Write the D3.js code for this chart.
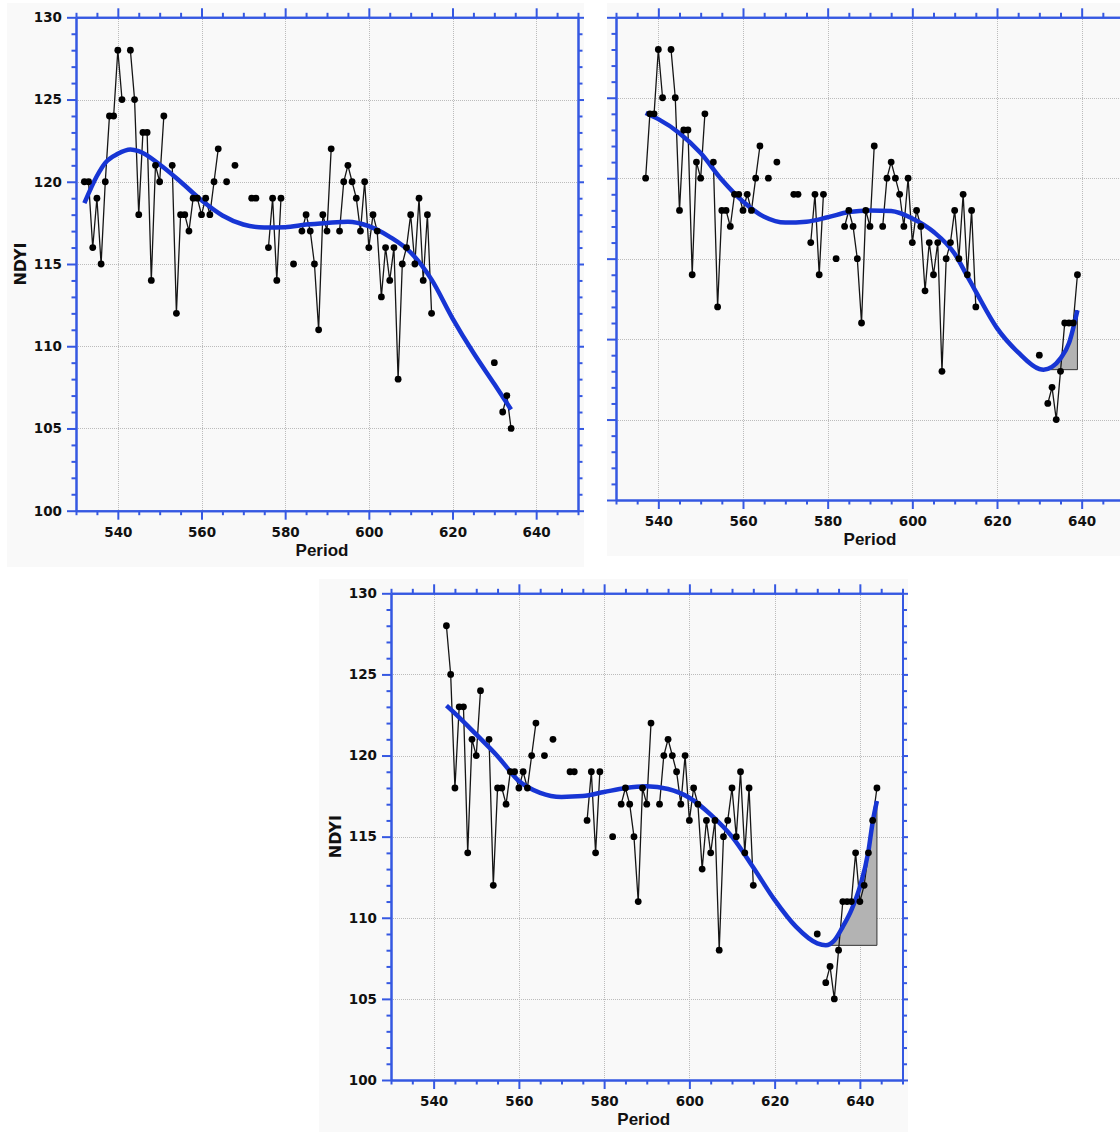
<!DOCTYPE html>
<html>
<head>
<meta charset="utf-8">
<script src="https://cdn.jsdelivr.net/npm/d3@7"></script>
<style>
  html, body { margin: 0; padding: 0; background: #ffffff; }
  svg { display: block; }
</style>
</head>
<body>
<svg id="chart" width="1120" height="1132"></svg>
<script>
// Observed NDYI by period (missing periods are simply absent)
const periods = [
  532,533,534,535,536,537,538,539,540,541,
  543,544,545,546,547,548,549,550,551,
  553,554,555,556,557,558,559,560,561,562,563,564,
  566,568,572,573,
  576,577,578,579,582,
  584,585,586,587,588,589,590,591,
  593,594,595,596,597,598,599,600,601,602,603,604,605,606,607,608,609,610,611,612,613,614,615,
  630,
  632,633,634,635,636,637,638,639,640,641,642,643,644
];
const ndyi = [
  120,120,116,119,115,120,124,124,128,125,
  128,125,118,123,123,114,121,120,124,
  121,112,118,118,117,119,119,118,119,118,120,122,
  120,121,119,119,
  116,119,114,119,115,
  117,118,117,115,111,118,117,122,
  117,120,121,120,119,117,120,116,118,117,113,116,114,116,108,115,116,118,115,119,114,118,112,
  109,
  106,107,105,108,111,111,111,114,111,112,114,116,118
];

// Window of periods covered by each panel
const windowStart = [532, 537, 543];
const windowEnd   = [634, 639, 644];

// Fitted trend, sampled along each window
const trend1Period = [532,535,537,540,543,545,550,555,560,565,570,575,580,585,590,595,600,605,610,615,620,625,630,634];
const trend1Value  = [118.7,120.35,121.15,121.7,121.96,121.86,121.05,120.0,118.87,117.95,117.4,117.22,117.24,117.4,117.5,117.57,117.3,116.65,115.7,114.05,111.7,109.6,107.7,106.15];

const trend2Period = [537,540,545,550,555,560,565,570,575,580,585,590,595,600,605,610,613,615,620,625,630,631,633,635,637,639];
const trend2Value  = [124.05,123.67,122.8,121.56,119.9,118.55,117.6,117.24,117.3,117.57,117.9,118.0,117.96,117.5,116.67,115.3,113.9,112.95,110.68,109.17,108.14,108.1,108.27,108.8,109.75,111.8];

const trend3Period = [543,545,550,555,560,565,570,575,580,585,590,595,600,605,610,615,620,625,630,632,634,636,638,640,642,643,644];
const trend3Value  = [123.08,122.6,121.3,119.96,118.43,117.7,117.45,117.5,117.75,118.0,118.1,117.94,117.4,116.36,115.0,113.1,111.1,109.45,108.42,108.3,108.6,109.45,110.47,111.9,114.1,115.9,117.2];

// Shading below the trend after its minimum
const shadeAfterMin = [false, true, true];

// Axis ticks
const xMajorTicks = [540, 560, 580, 600, 620, 640];
const yMajorTicks = [100, 105, 110, 115, 120, 125, 130];
const xDomain = [530, 650];
const yDomain = [100, 130];

const trendPeriods = [trend1Period, trend2Period, trend3Period];
const trendValues  = [trend1Value, trend2Value, trend3Value];

// Panel geometry
const panels = [
  { frame: { x: 7,   y: 3,   w: 577, h: 564 }, plot: { l: 76,  t: 17.3,  r: 578,   b: 510.7 }, titleShift: -5 },
  { frame: { x: 607, y: 3,   w: 513, h: 553 }, plot: { l: 616, t: 17.3,  r: 1124,  b: 500   }, titleShift: 0 },
  { frame: { x: 319, y: 579, w: 589, h: 553 }, plot: { l: 391, t: 593.3, r: 902.5, b: 1080  }, titleShift: -3 }
];

const AXIS = "#3558e2";
const TREND = "#1735d4";
const TICK_FONT = "'DejaVu Sans', sans-serif";
const TITLE_FONT = "'Liberation Sans', Arial, sans-serif";

const svg = d3.select("#chart");
const defs = svg.append("defs");

const obs = periods.map((p, i) => ({ p, v: ndyi[i] }));

const xMinor = d3.range(xDomain[0], xDomain[1] + 1, 5).filter(v => !xMajorTicks.includes(v));
const yMinor = d3.range(yDomain[0], yDomain[1] + 1, 1).filter(v => !yMajorTicks.includes(v));

panels.forEach((pn, k) => {
  const clipId = "panel-clip-" + k;
  defs.append("clipPath").attr("id", clipId)
    .append("rect")
    .attr("x", pn.frame.x).attr("y", pn.frame.y)
    .attr("width", pn.frame.w).attr("height", pn.frame.h);

  const g = svg.append("g").attr("clip-path", `url(#${clipId})`);

  g.append("rect")
    .attr("x", pn.frame.x).attr("y", pn.frame.y)
    .attr("width", pn.frame.w).attr("height", pn.frame.h)
    .attr("fill", "#f9f9f9");

  const x = d3.scaleLinear().domain(xDomain).range([pn.plot.l, pn.plot.r]);
  const y = d3.scaleLinear().domain(yDomain).range([pn.plot.b, pn.plot.t]);

  // dotted grid at the major ticks
  const grid = g.append("g")
    .attr("stroke", "#bcbcbc").attr("stroke-width", 1)
    .attr("stroke-dasharray", "1 1").attr("shape-rendering", "crispEdges");
  grid.selectAll("line.vx").data(xMajorTicks).join("line")
    .attr("x1", d => Math.round(x(d)) + 0.5).attr("x2", d => Math.round(x(d)) + 0.5)
    .attr("y1", pn.plot.t).attr("y2", pn.plot.b);
  grid.selectAll("line.hy").data(yMajorTicks.filter(v => v > yDomain[0] && v < yDomain[1])).join("line")
    .attr("y1", d => Math.round(y(d)) + 0.5).attr("y2", d => Math.round(y(d)) + 0.5)
    .attr("x1", pn.plot.l).attr("x2", pn.plot.r);

  const tp = trendPeriods[k], tv = trendValues[k];
  const trend = tp.map((p, i) => ({ p, v: tv[i] }));
  const curve = d3.curveMonotoneX;

  // shaded region between the trend and its minimum
  if (shadeAfterMin[k]) {
    const minIdx = d3.minIndex(trend, d => d.v);
    const minV = trend[minIdx].v;
    const shadeClip = "shade-clip-" + k;
    defs.append("clipPath").attr("id", shadeClip)
      .append("rect")
      .attr("x", x(trend[minIdx].p)).attr("y", pn.plot.t)
      .attr("width", x(trend[trend.length - 1].p) - x(trend[minIdx].p) + 1)
      .attr("height", pn.plot.b - pn.plot.t);
    const area = d3.area().curve(curve)
      .x(d => x(d.p)).y0(y(minV)).y1(d => y(d.v));
    g.append("path")
      .attr("clip-path", `url(#${shadeClip})`)
      .attr("d", area(trend))
      .attr("fill", "#b3b3b3");
    // outline: bottom and right edges
    const last = trend[trend.length - 1];
    g.append("path")
      .attr("d", `M${x(trend[minIdx].p)},${y(minV)}H${x(last.p)}V${y(last.v)}`)
      .attr("fill", "none").attr("stroke", "#333").attr("stroke-width", 1);
  }

  // observations inside the window, broken at missing periods
  const inWin = obs.filter(d => d.p >= windowStart[k] && d.p <= windowEnd[k]);
  const segments = [];
  inWin.forEach((d, i) => {
    if (i === 0 || d.p - inWin[i - 1].p > 1) segments.push([]);
    segments[segments.length - 1].push(d);
  });
  const line = d3.line().x(d => x(d.p)).y(d => y(d.v));
  g.append("g").selectAll("path").data(segments.filter(s => s.length > 1)).join("path")
    .attr("d", line)
    .attr("fill", "none").attr("stroke", "#151515").attr("stroke-width", 1.3);

  // fitted trend
  g.append("path")
    .attr("d", d3.line().curve(curve).x(d => x(d.p)).y(d => y(d.v))(trend))
    .attr("fill", "none").attr("stroke", TREND).attr("stroke-width", 4.5)
    .attr("stroke-linecap", "butt");

  g.append("g").selectAll("circle").data(inWin).join("circle")
    .attr("cx", d => x(d.p)).attr("cy", d => y(d.v)).attr("r", 3.4)
    .attr("fill", "#000");

  // axes on all four sides, minor then major ticks
  const axes = [
    { gen: d3.axisBottom, tr: `translate(0,${pn.plot.b})`, s: x, minor: xMinor, major: xMajorTicks, labels: true },
    { gen: d3.axisTop,    tr: `translate(0,${pn.plot.t})`, s: x, minor: xMinor, major: xMajorTicks, labels: false },
    { gen: d3.axisLeft,   tr: `translate(${pn.plot.l},0)`, s: y, minor: yMinor, major: yMajorTicks, labels: true },
    { gen: d3.axisRight,  tr: `translate(${pn.plot.r},0)`, s: y, minor: yMinor, major: yMajorTicks, labels: false }
  ];
  axes.forEach(a => {
    const ga = g.append("g").attr("transform", a.tr);
    ga.append("g").call(a.gen(a.s).tickValues(a.minor).tickSize(4.5).tickSizeOuter(0).tickFormat(""));
    const horizontal = (a.gen === d3.axisBottom || a.gen === d3.axisTop);
    const pad = horizontal ? 7.3 : 5;
    ga.append("g").call(a.gen(a.s).tickValues(a.major).tickSize(9).tickSizeOuter(0).tickPadding(pad)
      .tickFormat(a.labels ? d3.format("d") : ""));
    ga.selectAll("path.domain").attr("stroke", AXIS).attr("stroke-width", 2);
    ga.selectAll(".tick line").attr("stroke", AXIS).attr("stroke-width", 2);
    ga.selectAll(".tick text")
      .attr("fill", "#111")
      .style("font-family", TICK_FONT).style("font-weight", "bold").style("font-size", "13.5px");
  });

  // axis titles
  g.append("text")
    .attr("x", (pn.plot.l + pn.plot.r) / 2 + pn.titleShift).attr("y", pn.plot.b + 45)
    .attr("text-anchor", "middle")
    .style("font-family", TITLE_FONT).style("font-weight", "bold").style("font-size", "17px")
    .attr("fill", "#111")
    .text("Period");
  g.append("text")
    .attr("transform", `translate(${pn.plot.l - 50},${(pn.plot.t + pn.plot.b) / 2}) rotate(-90)`)
    .attr("text-anchor", "middle")
    .style("font-family", TICK_FONT).style("font-weight", "bold").style("font-size", "16px")
    .attr("fill", "#111")
    .text("NDYI");
});
</script>
</body>
</html>
